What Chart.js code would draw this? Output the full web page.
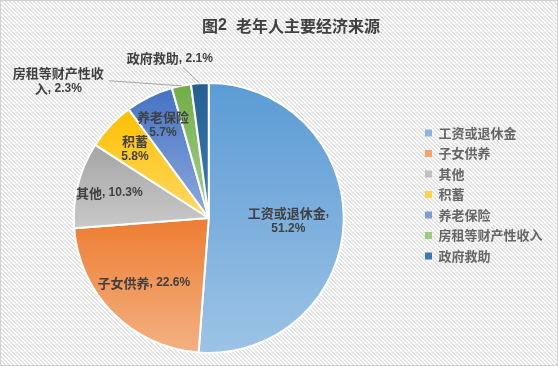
<!DOCTYPE html>
<html><head><meta charset="utf-8">
<script src="https://cdn.jsdelivr.net/npm/chart.js@4/dist/chart.umd.min.js"></script>
<style>html,body{margin:0;padding:0;background:#fff;}</style>
</head><body>
<canvas id="c" width="558" height="366"></canvas>
<script>
const chartTitle = '图2  老年人主要经济来源';
const categories = ['工资或退休金', '子女供养', '其他', '积蓄', '养老保险', '房租等财产性收入', '政府救助'];
const shares = [51.2, 22.6, 10.3, 5.8, 5.7, 2.3, 2.1];
const topColors = ['#5B9BD5', '#ED7D31', '#A5A5A5', '#FFC000', '#4472C4', '#70AD47', '#255E91'];
const bottomColors = ['#9DC3E6', '#F4B183', '#C9C9C9', '#FFD966', '#8FAADC', '#A9D18E', '#3F7DB8'];
const legendColors = ['#8DB4E2', '#F4A46A', '#C0C0C0', '#FFD24C', '#7E9BD8', '#9CCB7F', '#3A78B8'];

const CJK = '"Noto Sans CJK SC"';
const LAT = '"Liberation Sans"';

function drawMixed(ctx, text, cx, cy, cjkFont, latFont, color) {
  const re = /[\u2E80-\u9FFF\uFF00-\uFFEF\u3000-\u303F]/;
  const runs = [];
  for (const ch of text) {
    const c = re.test(ch);
    if (runs.length && runs[runs.length - 1].c === c) runs[runs.length - 1].t += ch;
    else runs.push({c, t: ch});
  }
  let total = 0;
  runs.forEach(r => { ctx.font = r.c ? cjkFont : latFont; r.w = ctx.measureText(r.t).width; total += r.w; });
  let x = cx - total / 2;
  ctx.fillStyle = color; ctx.textAlign = 'left'; ctx.textBaseline = 'middle';
  runs.forEach(r => { ctx.font = r.c ? cjkFont : latFont; ctx.fillText(r.t, x, cy); x += r.w; });
}

function sliceGradient(ctx) {
  const chart = ctx.chart, area = chart.chartArea, i = ctx.dataIndex;
  if (!area) return topColors[i];
  const cx = (area.left + area.right) / 2, cy = (area.top + area.bottom) / 2;
  const r = (Math.min(area.right - area.left, area.bottom - area.top) - 2) / 2;
  const total = shares.reduce((a, b) => a + b, 0);
  let cum = 0; for (let k = 0; k < i; k++) cum += shares[k];
  const a0 = -Math.PI / 2 + 2 * Math.PI * cum / total;
  const a1 = a0 + 2 * Math.PI * shares[i] / total;
  const ys = [cy, cy + r * Math.sin(a0), cy + r * Math.sin(a1)];
  for (const t of [-Math.PI / 2, Math.PI / 2, 3 * Math.PI / 2]) if (t >= a0 && t <= a1) ys.push(cy + r * Math.sin(t));
  const y0 = Math.min(...ys), y1 = Math.max(...ys);
  const g = chart.ctx.createLinearGradient(0, y0, 0, y1 + 0.01);
  g.addColorStop(0, topColors[i]); g.addColorStop(1, bottomColors[i]);
  return g;
}

const bgPlugin = {
  id: 'bg',
  beforeDraw(chart) {
    const ctx = chart.ctx;
    const tile = document.createElement('canvas'); tile.width = 4; tile.height = 4;
    const t = tile.getContext('2d');
    t.fillStyle = '#ffffff'; t.fillRect(0, 0, 4, 4);
    t.fillStyle = '#e2e2e2';
    for (let y = 0; y < 4; y++) for (let x = 0; x < 4; x++) {
      const d = ((x - y) % 4 + 4) % 4;
      if (d === 0 || d === 1) t.fillRect(x, y, 1, 1);
    }
    ctx.save();
    ctx.fillStyle = ctx.createPattern(tile, 'repeat');
    ctx.fillRect(0, 0, chart.width, chart.height);
    ctx.strokeStyle = '#d0d0d0'; ctx.lineWidth = 1;
    ctx.strokeRect(0.5, 0.5, chart.width - 1, chart.height - 1);
    ctx.restore();
  },
  afterDraw(chart) {
    const ctx = chart.ctx;
    ctx.save();
    drawMixed(ctx, chartTitle, 291, 26, 'bold 16px ' + CJK, 'bold 16px ' + LAT, '#404040');
    ctx.restore();
  }
};

const labelPlugin = {
  id: 'sliceLabels',
  afterDatasetsDraw(chart) {
    const ctx = chart.ctx;
    const meta = chart.getDatasetMeta(0);
    const cjkF = 'bold 13px ' + CJK, latF = 'bold 12px ' + LAT, col = '#404040';
    const frac = [0.59, 0.68, 0.76, 0.75, 0.77];
    ctx.save();
    meta.data.forEach((arc, i) => {
      const p = arc.getProps(['x', 'y', 'startAngle', 'endAngle', 'outerRadius'], true);
      const mid = (p.startAngle + p.endAngle) / 2;
      const name = categories[i], val = shares[i].toFixed(1) + '%';
      let lines, cx, cy;
      if (i < 5) {
        cx = p.x + Math.cos(mid) * p.outerRadius * frac[i];
        cy = p.y + Math.sin(mid) * p.outerRadius * frac[i];
        if (i === 0) lines = [name + ',', val];
        else if (i === 3 || i === 4) lines = [name, val];
        else lines = [name + ', ' + val];
      } else {
        const ax = p.x + Math.cos(mid) * p.outerRadius, ay = p.y + Math.sin(mid) * p.outerRadius;
        let ex, ey;
        if (i === 5) { ex = ax - 72; ey = ay - 5; cx = ax - 123; cy = ay - 5; lines = [name.slice(0, 7), name.slice(7) + ', ' + val]; }
        else { ex = ax - 17; ey = ay - 16; cx = ax - 30; cy = ay - 25; lines = [name + ', ' + val]; }
        ctx.strokeStyle = '#a6a6a6'; ctx.lineWidth = 1;
        ctx.beginPath(); ctx.moveTo(ax, ay); ctx.lineTo(ex, ey); ctx.stroke();
      }
      const lh = 16;
      const startY = cy - (lines.length - 1) * lh / 2;
      lines.forEach((ln, k) => drawMixed(ctx, ln, cx, startY + k * lh, cjkF, latF, col));
    });
    ctx.restore();
  }
};

new Chart(document.getElementById('c'), {
  type: 'pie',
  data: {
    labels: categories,
    datasets: [{
      data: shares,
      backgroundColor: sliceGradient,
      borderColor: '#ffffff',
      borderWidth: 2,
      hoverOffset: 0
    }]
  },
  options: {
    responsive: false,
    animation: false,
    events: [],
    layout: { padding: { left: -3.5, right: 5.5, top: 82, bottom: 12 } },
    plugins: {
      title: { display: false },
      tooltip: { enabled: false },
      legend: {
        position: 'right',
        align: 'start',
        title: { display: true, text: ' ', font: { size: 12, lineHeight: 1 }, padding: { top: 0, bottom: 25 } },
        labels: {
          boxWidth: 7, boxHeight: 7, padding: 7.5,
          color: '#4a4a4a',
          font: { family: CJK, size: 13, weight: 'bold' },
          generateLabels: () => categories.map((c, i) => ({
            text: c, fillStyle: legendColors[i], strokeStyle: legendColors[i], lineWidth: 0, hidden: false, index: i
          }))
        }
      }
    }
  },
  plugins: [bgPlugin, labelPlugin]
});
</script>
</body></html>
